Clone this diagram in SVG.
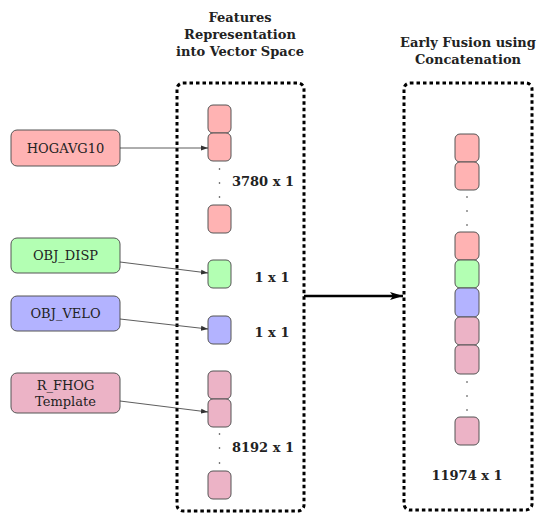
<svg xmlns="http://www.w3.org/2000/svg" width="550" height="523" viewBox="0 0 550 523">
<defs>
<style>
.t{font-family:'DejaVu Serif','Liberation Serif',serif;font-size:13px;fill:#222;text-anchor:middle}
.b{font-family:'DejaVu Serif','Liberation Serif',serif;font-size:13px;font-weight:bold;fill:#222;text-anchor:middle}
.n{stroke:#555;stroke-width:1}
.red{fill:#ffb3b3}
.grn{fill:#b3ffb3}
.blu{fill:#b3b3ff}
.pur{fill:#ecb3c6}
.box{fill:none;stroke:#000;stroke-width:3;stroke-dasharray:3.5 3}
.c{stroke:#333;stroke-width:0.8;fill:none}
.dot{fill:#333}
</style>
<marker id="ah" markerWidth="8" markerHeight="6" refX="7" refY="3" orient="auto" markerUnits="userSpaceOnUse">
<path d="M0,0.5 L7,3 L0,5.5 Z" fill="#333"/>
</marker>
<marker id="ahb" markerWidth="14" markerHeight="10" refX="13" refY="5" orient="auto" markerUnits="userSpaceOnUse">
<path d="M0,1 L13,5 L0,9 L3,5 Z" fill="#000"/>
</marker>
</defs>

<text class="b" x="240" y="22">Features</text>
<text class="b" x="240" y="39">Representation</text>
<text class="b" x="240" y="56">into Vector Space</text>
<text class="b" x="468" y="47">Early Fusion using</text>
<text class="b" x="468" y="64">Concatenation</text>

<g id="features-box">
<rect class="box" x="177" y="83" width="127" height="428" rx="6"/>
<rect class="n red" x="208" y="105" width="23" height="28" rx="5"/>
<rect class="n red" x="208" y="133" width="23" height="28" rx="5"/>
<circle class="dot" cx="219.5" cy="169" r="0.8"/>
<circle class="dot" cx="219.5" cy="183" r="0.8"/>
<circle class="dot" cx="219.5" cy="197" r="0.8"/>
<rect class="n red" x="208" y="205" width="23" height="28" rx="5"/>
<rect class="n grn" x="208" y="260" width="23" height="28" rx="5"/>
<rect class="n blu" x="208" y="316" width="23" height="28" rx="5"/>
<rect class="n pur" x="208" y="371" width="23" height="28" rx="5"/>
<rect class="n pur" x="208" y="399" width="23" height="28" rx="5"/>
<circle class="dot" cx="219.5" cy="434" r="0.8"/>
<circle class="dot" cx="219.5" cy="448" r="0.8"/>
<circle class="dot" cx="219.5" cy="463" r="0.8"/>
<rect class="n pur" x="208" y="471" width="23" height="28" rx="5"/>
<text class="b" x="263" y="186">3780 x 1</text>
<text class="b" x="272" y="282">1 x 1</text>
<text class="b" x="272" y="337">1 x 1</text>
<text class="b" x="263" y="452">8192 x 1</text>
</g>

<g id="fusion-box">
<rect class="box" x="404" y="83" width="128" height="427" rx="6"/>
<rect class="n red" x="455" y="134" width="24" height="28" rx="5"/>
<rect class="n red" x="455" y="162" width="24" height="28" rx="5"/>
<circle class="dot" cx="467" cy="197" r="0.8"/>
<circle class="dot" cx="467" cy="211" r="0.8"/>
<circle class="dot" cx="467" cy="225" r="0.8"/>
<rect class="n red" x="455" y="232" width="24" height="28" rx="5"/>
<rect class="n grn" x="455" y="260" width="24" height="28" rx="5"/>
<rect class="n blu" x="455" y="288" width="24" height="29" rx="5"/>
<rect class="n pur" x="455" y="317" width="24" height="28" rx="5"/>
<rect class="n pur" x="455" y="345" width="24" height="29" rx="5"/>
<circle class="dot" cx="467" cy="382" r="0.8"/>
<circle class="dot" cx="467" cy="396" r="0.8"/>
<circle class="dot" cx="467" cy="410" r="0.8"/>
<rect class="n pur" x="455" y="417" width="24" height="28" rx="5"/>
<text class="b" x="467" y="480">11974 x 1</text>
</g>

<g id="HOGAVG10">
<rect class="n red" x="11" y="130" width="109" height="36" rx="6"/>
<text class="t" x="65.5" y="153">HOGAVG10</text>
</g>
<g id="OBJ_DISP">
<rect class="n grn" x="11" y="238" width="109" height="35" rx="6"/>
<text class="t" x="65.5" y="260">OBJ_DISP</text>
</g>
<g id="OBJ_VELO">
<rect class="n blu" x="11" y="296" width="109" height="35" rx="6"/>
<text class="t" x="65.5" y="318">OBJ_VELO</text>
</g>
<g id="R_FHOG">
<rect class="n pur" x="11" y="373" width="109" height="40" rx="6"/>
<text class="t" x="65.5" y="390">R_FHOG</text>
<text class="t" x="65.5" y="406">Template</text>
</g>

<g id="connectors">
<line class="c" x1="120" y1="148" x2="208" y2="148" marker-end="url(#ah)"/>
<line class="c" x1="120" y1="262" x2="208" y2="273" marker-end="url(#ah)"/>
<line class="c" x1="120" y1="319" x2="208" y2="329" marker-end="url(#ah)"/>
<line class="c" x1="120" y1="401" x2="208" y2="412" marker-end="url(#ah)"/>
<line x1="304" y1="296" x2="403" y2="296" stroke="#000" stroke-width="2.5" marker-end="url(#ahb)"/>
</g>
</svg>
